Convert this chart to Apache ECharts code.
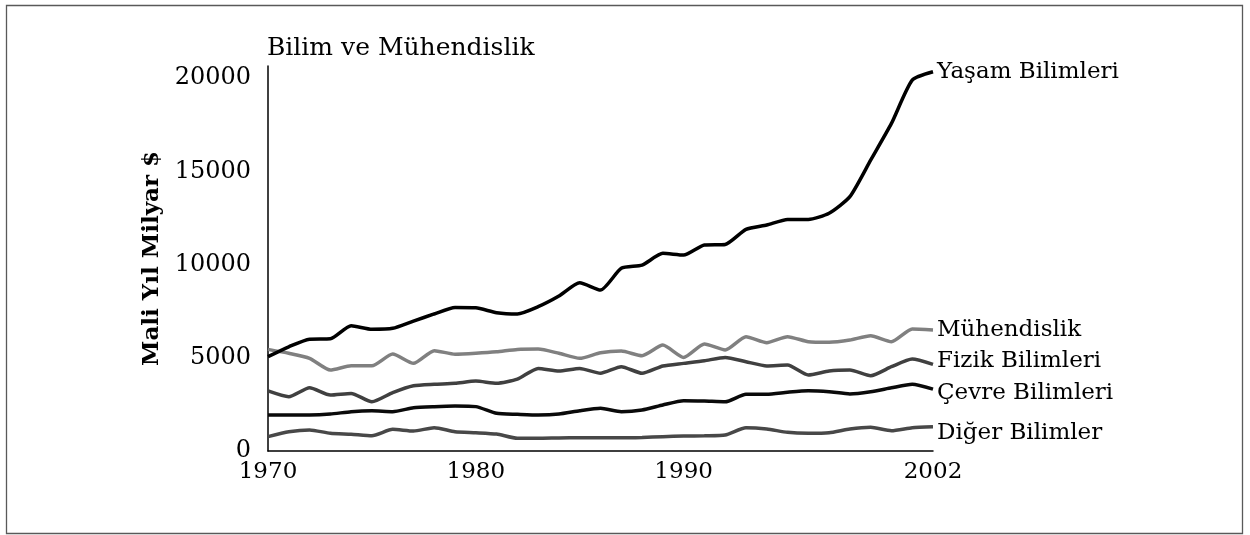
<!DOCTYPE html>
<html>
<head>
<meta charset="utf-8">
<script src="https://cdn.jsdelivr.net/npm/echarts@6/dist/echarts.min.js"></script>
<style>
    html, body { margin: 0; padding: 0; background: #fff; }
    #chart { width: 1250px; height: 535px; }
</style>
</head>
<body>
<div id="chart"></div>
<script>
// yillar ve seriler
var years = [1970, 1971, 1972, 1973, 1974, 1975, 1976, 1977, 1978, 1979, 1980,
    1981, 1982, 1983, 1984, 1985, 1986, 1987, 1988, 1989, 1990,
    1991, 1992, 1993, 1994, 1995, 1996, 1997, 1998, 1999, 2000, 2001, 2002];

var yasam = [5060, 5590, 6000, 6020, 6720, 6530, 6580, 6970, 7350, 7700, 7680,
    7420, 7350, 7740, 8310, 9020, 8630, 9800, 9970, 10600, 10510,
    11050, 11080, 11890, 12120, 12420, 12420, 12750, 13640, 15600, 17570, 19890, 20340];

var muhendislik = [5450, 5240, 4970, 4340, 4570, 4570, 5200, 4700, 5380, 5190, 5240,
    5320, 5450, 5470, 5240, 4970, 5270, 5360, 5110, 5680, 5020,
    5740, 5420, 6130, 5810, 6130, 5860, 5830, 5950, 6180, 5860, 6540, 6490];

var fizik = [3220, 2910, 3390, 3000, 3090, 2640, 3130, 3500, 3580, 3630, 3750,
    3630, 3850, 4430, 4290, 4430, 4170, 4520, 4170, 4560, 4700,
    4840, 5020, 4790, 4560, 4610, 4080, 4290, 4340, 4040, 4520, 4930, 4650];

var cevre = [1930, 1930, 1930, 1980, 2110, 2160, 2110, 2320, 2380, 2410, 2380,
    2020, 1970, 1930, 1980, 2160, 2290, 2110, 2200, 2470, 2700,
    2680, 2640, 3040, 3040, 3150, 3230, 3180, 3060, 3180, 3390, 3580, 3320];

var diger = [770, 1030, 1130, 950, 900, 820, 1160, 1070, 1250, 1030, 980,
    910, 680, 680, 700, 710, 710, 710, 730, 770, 800,
    820, 860, 1250, 1180, 1000, 950, 980, 1180, 1270, 1090, 1250, 1300];

var seriesNames = ['Yaşam Bilimleri', 'Mühendislik', 'Fizik Bilimleri', 'Çevre Bilimleri', 'Diğer Bilimler'];
var seriesColors = ['#000000', '#808080', '#404040', '#0a0a0a', '#484848'];
var xTickLabels = [1970, 1980, 1990, 2002];
var yTickLabels = [0, 5000, 10000, 15000, 20000];

var fontName = '"DejaVu Serif", serif';

function pairs(values) {
    var res = [];
    for (var i = 0; i < years.length; i++) {
        res.push([years[i], values[i]]);
    }
    return res;
}

var allValues = [yasam, muhendislik, fizik, cevre, diger];
var labelOffsets = [[0, 0], [0, 0], [0, -3], [0, 4], [0, 6]];

var seriesList = [];
for (var s = 0; s < allValues.length; s++) {
    seriesList.push({
        name: seriesNames[s],
        type: 'line',
        data: pairs(allValues[s]),
        smooth: 0.2,
        symbol: 'none',
        lineStyle: { color: seriesColors[s], width: 3.5 },
        itemStyle: { color: seriesColors[s] },
        endLabel: {
            show: true,
            formatter: '{a}',
            color: '#000',
            fontFamily: fontName,
            fontSize: 23,
            distance: 4,
            offset: labelOffsets[s]
        },
        z: 5 - s
    });
}

var chart = echarts.init(document.getElementById('chart'));

chart.setOption({
    animation: false,
    backgroundColor: '#fff',
    textStyle: { fontFamily: fontName },
    title: {
        text: 'Bilim ve Mühendislik',
        left: 262,
        top: 31,
        textStyle: { fontFamily: fontName, fontSize: 25, fontWeight: 'normal', color: '#000' }
    },
    graphic: [{
        type: 'rect',
        shape: { x: 6.5, y: 5.5, width: 1236, height: 528 },
        style: { fill: 'none', stroke: '#595959', lineWidth: 1.3 },
        silent: true
    }],
    grid: { left: 268, right: 317, top: 66, bottom: 84 },
    xAxis: {
        type: 'value',
        min: 1970,
        max: 2002,
        interval: 10,
        splitLine: { show: false },
        axisTick: { show: false },
        axisLine: { lineStyle: { color: '#000', width: 1.5 } },
        axisLabel: {
            color: '#000',
            fontFamily: fontName,
            fontSize: 23,
            margin: 10,
            showMinLabel: true,
            showMaxLabel: true,
            hideOverlap: false,
            formatter: function(v) {
                return xTickLabels.indexOf(v) >= 0 ? String(v) : '';
            }
        }
    },
    yAxis: {
        type: 'value',
        min: 0,
        max: 20650,
        interval: 5000,
        name: 'Mali Yıl Milyar $',
        nameLocation: 'middle',
        nameGap: 100,
        nameTextStyle: { fontFamily: fontName, fontSize: 23, fontWeight: 'bold', color: '#000' },
        splitLine: { show: false },
        axisTick: { show: false },
        axisLine: { show: true, lineStyle: { color: '#000', width: 1.5 } },
        axisLabel: {
            color: '#000',
            fontFamily: fontName,
            fontSize: 24,
            margin: 17,
            formatter: function(v) {
                return yTickLabels.indexOf(v) >= 0 ? String(v) : '';
            }
        }
    },
    series: seriesList
});
</script>
</body>
</html>
